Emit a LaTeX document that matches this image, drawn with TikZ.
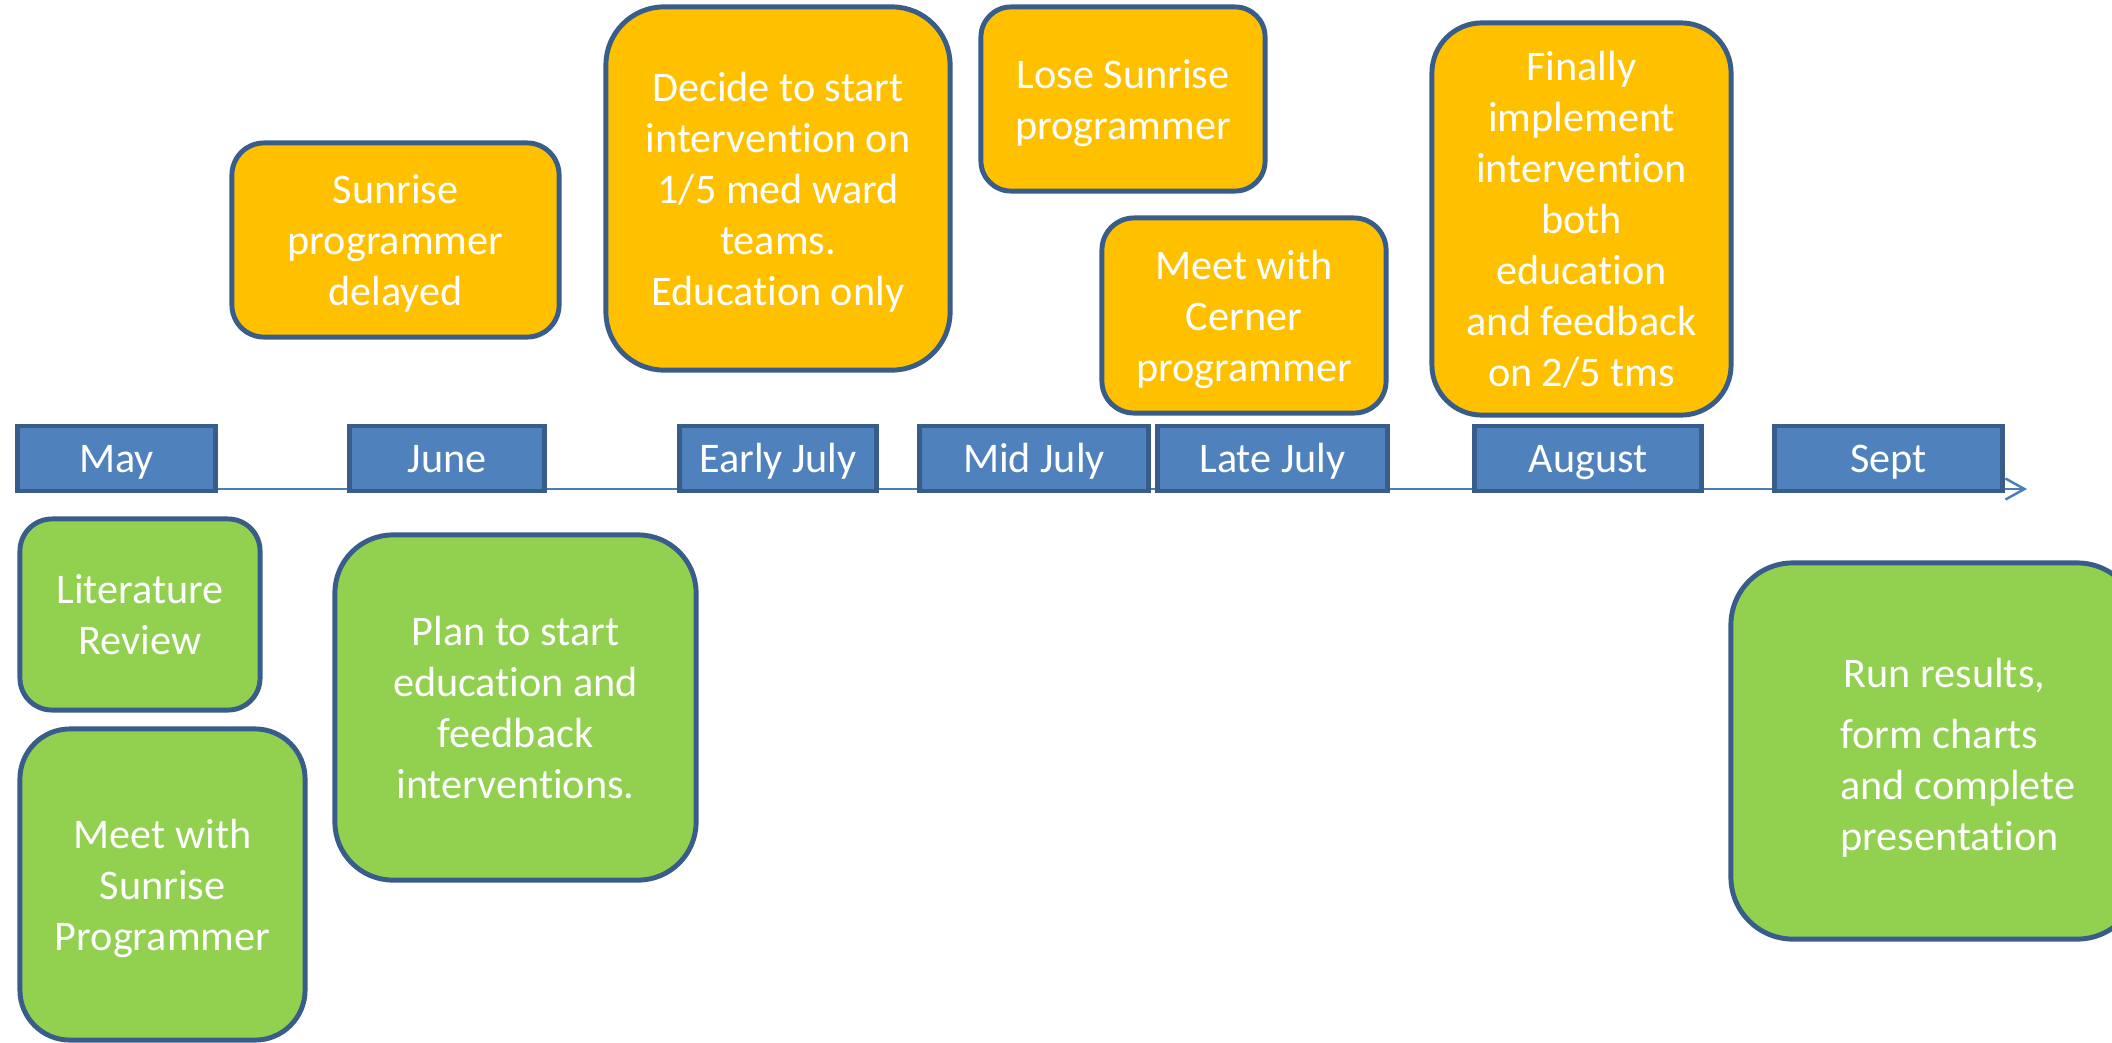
\documentclass[tikz,border=0pt]{standalone}
\usepackage{fontspec}
\setmainfont{Carlito}[Ligatures=NoCommon]
\usetikzlibrary{arrows.meta}
\definecolor{boxline}{HTML}{385D8A}
\definecolor{monthblue}{HTML}{4F81BD}
\definecolor{axisblue}{HTML}{4A7EBB}
\definecolor{eventorange}{HTML}{FFC000}
\definecolor{taskgreen}{HTML}{92D050}

\begin{document}
\begin{tikzpicture}[x=0.01cm,y=-0.01cm,
  month/.style={draw=boxline,fill=monthblue,line width=1.4pt,text=white,
    font=\fontsize{12}{14.5}\selectfont,inner sep=0pt,minimum height=0.65cm,
    text height=7.7pt,text depth=0pt},
  event/.style={draw=boxline,fill=eventorange,line width=1.4pt,text=white,
    align=center,font=\fontsize{12}{14.5}\selectfont,inner sep=0pt,text depth=0pt},
  task/.style={event,fill=taskgreen}]
\useasboundingbox (0,0) rectangle (2112,1042);
\clip (0,0) rectangle (2112,1042);

%time axis
\coordinate (axisstart) at (18,489);
\coordinate (axisend) at (2027,489);
\draw [axisblue,line width=0.7pt,-{Straight Barb[length=0.19cm,width=0.21cm]}] (axisstart) -- (axisend);

%months
\node [month,minimum width=1.97cm] (may) at (116.5,458.5) {May};
\node [month,minimum width=1.94cm] (june) at (447,458.5) {June};
\node [month,minimum width=1.96cm] (earlyjuly) at (778,458.5) {Early July};
\node [month,minimum width=2.28cm] (midjuly) at (1034,458.5) {Mid July};
\node [month,minimum width=2.29cm] (latejuly) at (1272.5,458.5) {Late July};
\node [month,minimum width=2.26cm] (august) at (1588,458.5) {August};
\node [month,minimum width=2.27cm] (sept) at (1888.5,458.5) {Sept};

%setbacks and decisions
\node [event,minimum width=3.27cm,minimum height=1.94cm,rounded corners=0.32cm] (delayed) at (395.5,240)
  {Sunrise\\programmer\\delayed};
\node [event,minimum width=3.44cm,minimum height=3.63cm,rounded corners=0.58cm] (decide) at (778,188.5)
  {Decide to start\\intervention on\\1/5 med ward\\teams.\\Education only};
\node [event,minimum width=2.84cm,minimum height=1.84cm,rounded corners=0.30cm] (lose) at (1123,99)
  {Lose Sunrise\\programmer};
\node [event,minimum width=2.84cm,minimum height=1.95cm,rounded corners=0.32cm] (cerner) at (1244,315.5)
  {Meet with\\Cerner\\programmer};
\node [event,minimum width=2.99cm,minimum height=3.92cm,rounded corners=0.50cm] (implement) at (1581.5,219)
  {Finally\\implement\\intervention\\both\\education\\and feedback\\on 2/5 tms};

%work done
\node [task,minimum width=2.40cm,minimum height=1.91cm,rounded corners=0.32cm] (review) at (140,614.5)
  {Literature\\Review};
\node [task,minimum width=2.85cm,minimum height=3.11cm,rounded corners=0.50cm] (meetsunrise) at (162.5,884.5)
  {Meet with\\Sunrise\\Programmer};
\node [task,minimum width=3.61cm,minimum height=3.45cm,rounded corners=0.58cm] (plan) at (515.5,707.5)
  {Plan to start\\education and\\feedback\\interventions.};
\node [task,minimum width=4.08cm,minimum height=3.76cm,rounded corners=0.62cm] (results) at (1935,751)
  {\begin{tabular}[b]{@{\hspace{0.46cm}}l@{}}\hspace*{0.03cm}Run results,\\[3pt] form charts\\ and complete\\ presentation\end{tabular}};
\end{tikzpicture}
\end{document}
